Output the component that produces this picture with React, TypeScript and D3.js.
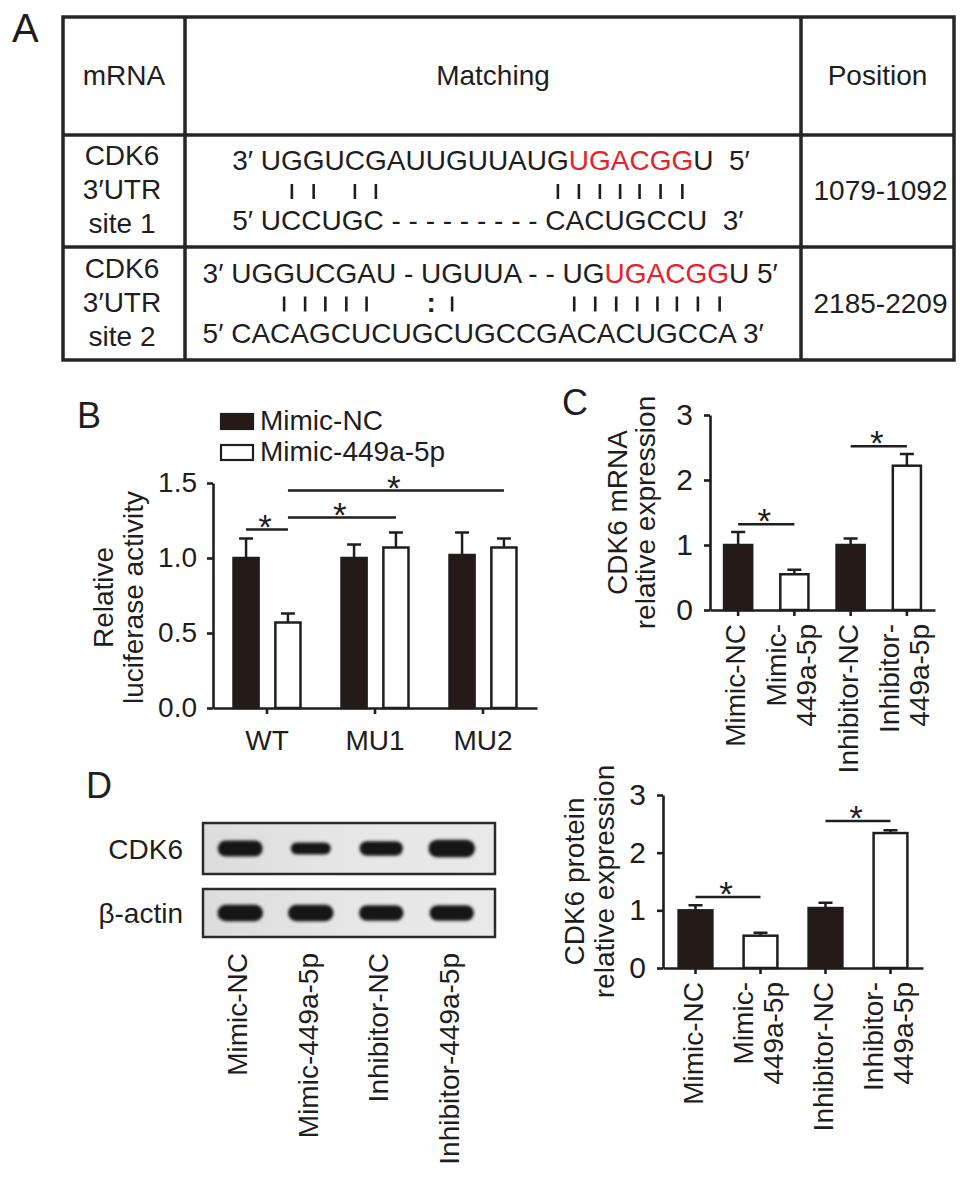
import React, { useEffect, useRef } from "react";
import * as d3 from "d3";

const FONT = '"Liberation Sans", Arial, Helvetica, sans-serif';
const INK = "#1e1e1e";
const DARK_BAR = "#251a18";
const RED = "#e5212d";
const FS = 28;

// ---------- Panel A data ----------
const tableHeaders = ["mRNA", "Matching", "Position"];
const siteLabels = [
  ["CDK6", "3′UTR", "site 1"],
  ["CDK6", "3′UTR", "site 2"],
];
const siteMirna = ["UGGUCGAUUGUUAUGUGACGGU", "UGGUCGAU - UGUUA - - UGUGACGGU"];
const siteMarks = [" || ||        ||||||| ", "  ||||| :|   |||||||| "];
const siteTarget = ["UCCUGC - - - - - - - - - CACUGCCU", "CACAGCUCUGCUGCCGACACUGCCA"];
const siteGap = ["\u00A0\u00A0", " "];
const sitePositions = ["1079-1092", "2185-2209"];
const seedSeq = "UGACGG";

// ---------- Panel B data ----------
const lucGroups = ["WT", "MU1", "MU2"];
const lucSeries = ["Mimic-NC", "Mimic-449a-5p"];
const lucNC = [1.0, 1.0, 1.02];
const lucNCErr = [0.13, 0.09, 0.15];
const lucMimic = [0.57, 1.07, 1.07];
const lucMimicErr = [0.06, 0.1, 0.06];
const lucTicks = [0, 0.5, 1.0, 1.5];
const lucSig = [
  { a: ["WT", "Mimic-NC"], b: ["WT", "Mimic-449a-5p"], level: 1.19 },
  { a: ["WT", "Mimic-449a-5p"], b: ["MU1", "Mimic-449a-5p"], level: 1.27 },
  { a: ["WT", "Mimic-449a-5p"], b: ["MU2", "Mimic-449a-5p"], level: 1.45 },
];

// ---------- Panel C / D data ----------
const treatGroups = ["Mimic-NC", "Mimic-449a-5p", "Inhibitor-NC", "Inhibitor-449a-5p"];
const treatLabelLines = [["Mimic-NC"], ["Mimic-", "449a-5p"], ["Inhibitor-NC"], ["Inhibitor-", "449a-5p"]];
const treatIsControl = [true, false, true, false];
const mrnaMean = [1.0, 0.55, 1.0, 2.22];
const mrnaErr = [0.2, 0.07, 0.1, 0.18];
const mrnaSig = [
  { a: 0, b: 1, level: 1.32 },
  { a: 2, b: 3, level: 2.52 },
];
const proteinMean = [1.0, 0.56, 1.04, 2.34];
const proteinErr = [0.09, 0.05, 0.09, 0.05];
const proteinSig = [
  { a: 0, b: 1, level: 1.23 },
  { a: 2, b: 3, level: 2.55 },
];
const expTicks = [0, 1, 2, 3];
const blotRows = ["CDK6", "β-actin"];
const cdk6Band = [1.0, 0.55, 0.85, 1.15];
const actinBand = [1.05, 1.05, 0.95, 0.95];

type Sel = d3.Selection<any, any, any, any>;

function styleAxis(g: Sel) {
  g.attr("font-family", FONT).attr("font-size", FS);
  g.select(".domain").attr("stroke", INK).attr("stroke-width", 2.6);
  g.selectAll(".tick line").attr("stroke", INK).attr("stroke-width", 2.6);
  g.selectAll(".tick text").attr("fill", INK);
}

function drawSig(g: Sel, xa: number, xb: number, yv: number) {
  g.append("line")
    .attr("x1", xa)
    .attr("x2", xb)
    .attr("y1", yv)
    .attr("y2", yv)
    .attr("stroke", INK)
    .attr("stroke-width", 2.5);
  g.append("text")
    .attr("x", (xa + xb) / 2 - 2)
    .attr("y", yv + 9)
    .attr("text-anchor", "middle")
    .attr("font-size", 35)
    .attr("font-family", FONT)
    .attr("fill", INK)
    .text("*");
}

function drawErrors(g: Sel, data: { cx: number; top: number; cap: number }[]) {
  const eg = g.append("g").attr("stroke", INK).attr("stroke-width", 2.5).attr("fill", "none");
  eg.selectAll("path.err")
    .data(data)
    .join("path")
    .attr("class", "err")
    .attr("d", (d) => `M${d.cx},${d.top}V${d.cap}M${d.cx - 7},${d.cap}H${d.cx + 7}`);
}

function rotatedTitle(g: Sel, lines: string[], xs: number[], cy: number) {
  lines.forEach((t, i) => {
    g.append("text")
      .attr("transform", `translate(${xs[i]},${cy}) rotate(-90)`)
      .attr("text-anchor", "middle")
      .attr("font-size", FS)
      .attr("font-family", FONT)
      .attr("fill", INK)
      .text(t);
  });
}

function panelLetter(svg: Sel, t: string, x: number, y: number, size: number) {
  svg
    .append("text")
    .attr("x", x)
    .attr("y", y)
    .attr("font-size", size)
    .attr("font-family", FONT)
    .attr("fill", INK)
    .text(t);
}

// ---------------- Panel A ----------------
function drawTable(svg: Sel) {
  const xs = [63, 185, 801, 954];
  const ys = [17, 135, 247, 360];
  const g = svg.append("g").attr("font-family", FONT).attr("font-size", FS).attr("fill", INK);
  const lc = "#262626";
  g.append("rect")
    .attr("x", xs[0])
    .attr("y", ys[0])
    .attr("width", xs[3] - xs[0])
    .attr("height", ys[3] - ys[0])
    .attr("fill", "none")
    .attr("stroke", lc)
    .attr("stroke-width", 3.5);
  [ys[1], ys[2]].forEach((y) =>
    g.append("line").attr("x1", xs[0]).attr("x2", xs[3]).attr("y1", y).attr("y2", y).attr("stroke", lc).attr("stroke-width", 3.5)
  );
  [xs[1], xs[2]].forEach((x) =>
    g.append("line").attr("x1", x).attr("x2", x).attr("y1", ys[0]).attr("y2", ys[3]).attr("stroke", lc).attr("stroke-width", 3.5)
  );
  const colMid = (i: number) => (xs[i] + xs[i + 1]) / 2;
  tableHeaders.forEach((h, i) => {
    g.append("text").attr("x", colMid(i)).attr("y", ys[0] + 68).attr("text-anchor", "middle").text(h);
  });

  const ctx = document.createElement("canvas").getContext("2d")!;
  ctx.font = `${FS}px ${FONT}`;
  const tw = (s: string) => ctx.measureText(s).width;

  siteMirna.forEach((seq, r) => {
    const mid = (ys[r + 1] + ys[r + 2]) / 2;
    siteLabels[r].forEach((t, i) => {
      g.append("text")
        .attr("x", colMid(0) - 2)
        .attr("y", mid + [-26, 8, 42][i])
        .attr("text-anchor", "middle")
        .text(t);
    });
    g.append("text").attr("x", colMid(2) + 3).attr("y", mid + 9).attr("text-anchor", "middle").text(sitePositions[r]);

    const topPre = "3′ ";
    const topStr = topPre + seq + siteGap[r] + "5′";
    const botStr = "5′ " + siteTarget[r] + siteGap[r] + "3′";
    const w = Math.max(tw(topStr), tw(botStr));
    const sx = colMid(1) - w / 2 - 2;
    const k = seq.lastIndexOf(seedSeq);
    const tt = g.append("text").attr("x", sx).attr("y", mid - 21).attr("xml:space", "preserve");
    tt.append("tspan").text(topPre + seq.slice(0, k));
    tt.append("tspan").attr("fill", RED).text(seq.slice(k, k + seedSeq.length));
    tt.append("tspan").text(seq.slice(k + seedSeq.length) + siteGap[r] + "5′");

    g.append("text").attr("x", sx).attr("y", mid + 39).attr("xml:space", "preserve").text(botStr);

    let nt = 0;
    const marks: { cx: number; m: string }[] = [];
    for (let c = 0; c < seq.length; c++) {
      if (/[ACGU]/.test(seq[c])) {
        const m = siteMarks[r][nt];
        if (m && m !== " ") {
          const cx = sx + tw(topPre + seq.slice(0, c)) + tw(seq[c]) / 2;
          marks.push({ cx, m });
        }
        nt++;
      }
    }
    g.selectAll(`line.pair${r}`)
      .data(marks.filter((d) => d.m === "|"))
      .join("line")
      .attr("class", `pair${r}`)
      .attr("x1", (d) => d.cx)
      .attr("x2", (d) => d.cx)
      .attr("y1", mid - 7)
      .attr("y2", mid + 8)
      .attr("stroke", INK)
      .attr("stroke-width", 2.6);
    g.selectAll(`text.wob${r}`)
      .data(marks.filter((d) => d.m === ":"))
      .join("text")
      .attr("class", `wob${r}`)
      .attr("x", (d) => d.cx)
      .attr("y", mid + 8)
      .attr("text-anchor", "middle")
      .attr("font-weight", "bold")
      .text(":");
  });
}

// ---------------- Panel B ----------------
function drawB(svg: Sel) {
  const g = svg.append("g");
  const y = d3.scaleLinear().domain([0, 1.5]).range([708, 483]);
  const x0 = d3.scaleBand().domain(lucGroups).range([213, 537]);
  const x1 = d3.scaleBand().domain(lucSeries).range([0, x0.bandwidth()]).paddingInner(0.4).paddingOuter(0.49);
  const fill = d3.scaleOrdinal<string, string>().domain(lucSeries).range([DARK_BAR, "#ffffff"]);
  const rows = lucGroups.flatMap((grp, i) => [
    { grp, s: lucSeries[0], v: lucNC[i], e: lucNCErr[i] },
    { grp, s: lucSeries[1], v: lucMimic[i], e: lucMimicErr[i] },
  ]);
  const cx = (grp: string, s: string) => (x0(grp) as number) + (x1(s) as number) + x1.bandwidth() / 2;

  drawErrors(
    g,
    rows.map((d) => ({ cx: cx(d.grp, d.s), top: y(d.v), cap: y(d.v + d.e) }))
  );
  g.selectAll("rect.bar")
    .data(rows)
    .join("rect")
    .attr("class", "bar")
    .attr("x", (d) => (x0(d.grp) as number) + (x1(d.s) as number))
    .attr("y", (d) => y(d.v))
    .attr("width", x1.bandwidth())
    .attr("height", (d) => y(0) - y(d.v))
    .attr("fill", (d) => fill(d.s))
    .attr("stroke", INK)
    .attr("stroke-width", 2.5);

  const ya = g
    .append("g")
    .attr("transform", "translate(213,0)")
    .call(d3.axisLeft(y).tickValues(lucTicks).tickFormat(d3.format(".1f")).tickSize(6).tickSizeOuter(0).tickPadding(10));
  styleAxis(ya);
  const xa = g
    .append("g")
    .attr("transform", `translate(0,${y(0)})`)
    .call(d3.axisBottom(x0).tickSize(6).tickSizeOuter(0).tickPadding(16));
  styleAxis(xa);

  lucSig.forEach((s) => drawSig(g, cx(s.a[0], s.a[1]), cx(s.b[0], s.b[1]), y(s.level)));

  const lg = g.append("g").attr("font-family", FONT).attr("font-size", FS).attr("fill", INK);
  lucSeries.forEach((s, i) => {
    const ly = 414 + i * 31;
    lg.append("rect")
      .attr("x", 221)
      .attr("y", ly)
      .attr("width", 32)
      .attr("height", 15)
      .attr("fill", fill(s))
      .attr("stroke", INK)
      .attr("stroke-width", 2.2);
    lg.append("text").attr("x", 260).attr("y", ly + 16).text(s);
  });

  rotatedTitle(g, ["Relative", "luciferase activity"], [113, 143], (y(0) + y(1.5)) / 2 + 2);
}

// ---------------- Panel C / D charts ----------------
function drawSimple(
  svg: Sel,
  o: {
    xr: [number, number];
    yr: [number, number];
    mean: number[];
    err: number[];
    sig: { a: number; b: number; level: number }[];
    title: string[];
    titleX: number[];
    padIn: number;
  }
) {
  const g = svg.append("g");
  const y = d3.scaleLinear().domain([0, 3]).range(o.yr);
  const x = d3.scaleBand().domain(treatGroups).range(o.xr).paddingInner(o.padIn).paddingOuter(o.padIn / 2);
  const rows = treatGroups.map((grp, i) => ({ grp, v: o.mean[i], e: o.err[i], ctrl: treatIsControl[i], lines: treatLabelLines[i] }));
  const cx = (grp: string) => (x(grp) as number) + x.bandwidth() / 2;

  drawErrors(
    g,
    rows.map((d) => ({ cx: cx(d.grp), top: y(d.v), cap: y(d.v + d.e) }))
  );
  g.selectAll("rect.bar")
    .data(rows)
    .join("rect")
    .attr("class", "bar")
    .attr("x", (d) => x(d.grp) as number)
    .attr("y", (d) => y(d.v))
    .attr("width", x.bandwidth())
    .attr("height", (d) => y(0) - y(d.v))
    .attr("fill", (d) => (d.ctrl ? DARK_BAR : "#ffffff"))
    .attr("stroke", INK)
    .attr("stroke-width", 2.5);

  const ya = g
    .append("g")
    .attr("transform", `translate(${o.xr[0]},0)`)
    .call(d3.axisLeft(y).tickValues(expTicks).tickFormat(d3.format("d")).tickSize(6).tickSizeOuter(0).tickPadding(11));
  styleAxis(ya);
  ya.selectAll(".tick text").attr("font-size", 30);
  const xa = g
    .append("g")
    .attr("transform", `translate(0,${y(0)})`)
    .call(d3.axisBottom(x).tickSize(6).tickSizeOuter(0).tickFormat(() => ""));
  styleAxis(xa);

  rows.forEach((d) => {
    const n = d.lines.length;
    d.lines.forEach((t, i) => {
      const off = (i - (n - 1) / 2) * 30 - 3;
      g.append("text")
        .attr("transform", `translate(${cx(d.grp) + off},${y(0) + 14}) rotate(-90)`)
        .attr("text-anchor", "end")
        .attr("dy", "0.36em")
        .attr("font-size", FS)
        .attr("font-family", FONT)
        .attr("fill", INK)
        .text(t);
    });
  });

  o.sig.forEach((s) => drawSig(g, cx(treatGroups[s.a]), cx(treatGroups[s.b]), y(s.level)));
  rotatedTitle(g, o.title, o.titleX, (o.yr[0] + o.yr[1]) / 2);
}

// ---------------- Panel D blot ----------------
function drawBlot(svg: Sel) {
  const g = svg.append("g");
  const defs = svg.append("defs");
  const f = defs.append("filter").attr("id", "bandBlur").attr("x", "-30%").attr("y", "-80%").attr("width", "160%").attr("height", "260%");
  f.append("feGaussianBlur").attr("stdDeviation", 1.8);
  const gr = defs.append("linearGradient").attr("id", "blotBg").attr("x1", 0).attr("x2", 1).attr("y1", 0).attr("y2", 0);
  gr.append("stop").attr("offset", "0%").attr("stop-color", "#dcdcdc");
  gr.append("stop").attr("offset", "50%").attr("stop-color", "#e6e6e6");
  gr.append("stop").attr("offset", "100%").attr("stop-color", "#e9e9e9");

  const lane = d3.scaleBand().domain(treatGroups).range([205, 487]);
  const bandW = d3.scaleLinear().domain([0, 1]).range([34, 45]);
  const bandH = d3.scaleLinear().domain([0, 1]).range([7, 16]);
  const boxes = [
    { label: blotRows[0], y: 823, h: 51, vals: cdk6Band },
    { label: blotRows[1], y: 889, h: 48, vals: actinBand },
  ];
  boxes.forEach((b) => {
    const mid = b.y + b.h / 2;
    g.append("rect").attr("x", 203).attr("y", b.y).attr("width", 292).attr("height", b.h).attr("fill", "url(#blotBg)");
    g.append("line")
      .attr("x1", 205)
      .attr("x2", 493)
      .attr("y1", mid)
      .attr("y2", mid)
      .attr("stroke", "#c4c4c4")
      .attr("stroke-width", 2)
      .attr("filter", "url(#bandBlur)");
    g.selectAll(null)
      .data(b.vals.map((v, i) => ({ v, grp: treatGroups[i] })))
      .join("rect")
      .attr("x", (d) => (lane(d.grp) as number) + lane.bandwidth() / 2 - bandW(d.v) / 2)
      .attr("y", (d) => mid - bandH(d.v) / 2)
      .attr("width", (d) => bandW(d.v))
      .attr("height", (d) => bandH(d.v))
      .attr("rx", (d) => bandH(d.v) / 2)
      .attr("fill", "#121212")
      .attr("filter", "url(#bandBlur)");
    g.append("rect")
      .attr("x", 203)
      .attr("y", b.y)
      .attr("width", 292)
      .attr("height", b.h)
      .attr("fill", "none")
      .attr("stroke", "#2a2a2a")
      .attr("stroke-width", 2.5);
    g.append("text")
      .attr("x", 183)
      .attr("y", mid + 10)
      .attr("text-anchor", "end")
      .attr("font-size", FS)
      .attr("font-family", FONT)
      .attr("fill", INK)
      .text(b.label);
  });
  treatGroups.forEach((grp) => {
    g.append("text")
      .attr("transform", `translate(${(lane(grp) as number) + lane.bandwidth() / 2 - 3},953) rotate(-90)`)
      .attr("text-anchor", "end")
      .attr("dy", "0.36em")
      .attr("font-size", FS)
      .attr("font-family", FONT)
      .attr("fill", INK)
      .text(grp);
  });
}

export default function App() {
  const ref = useRef<SVGSVGElement>(null);
  useEffect(() => {
    document.body.style.margin = "0";
    const svg = d3.select(ref.current) as Sel;
    svg.selectAll("*").remove();
    panelLetter(svg, "A", 12, 42, 40);
    panelLetter(svg, "B", 77, 428, 36);
    panelLetter(svg, "C", 562, 415, 36);
    panelLetter(svg, "D", 86, 798, 36);
    drawTable(svg);
    drawB(svg);
    drawSimple(svg, {
      xr: [710, 935],
      yr: [610, 415],
      mean: mrnaMean,
      err: mrnaErr,
      sig: mrnaSig,
      title: ["CDK6 mRNA", "relative expression"],
      titleX: [627, 655],
      padIn: 0.5,
    });
    drawBlot(svg);
    drawSimple(svg, {
      xr: [663, 923],
      yr: [968, 795],
      mean: proteinMean,
      err: proteinErr,
      sig: proteinSig,
      title: ["CDK6 protein", "relative expression"],
      titleX: [584, 614],
      padIn: 0.48,
    });
  }, []);
  return <svg ref={ref} width={969} height={1178} style={{ display: "block", background: "#ffffff" }} />;
}
